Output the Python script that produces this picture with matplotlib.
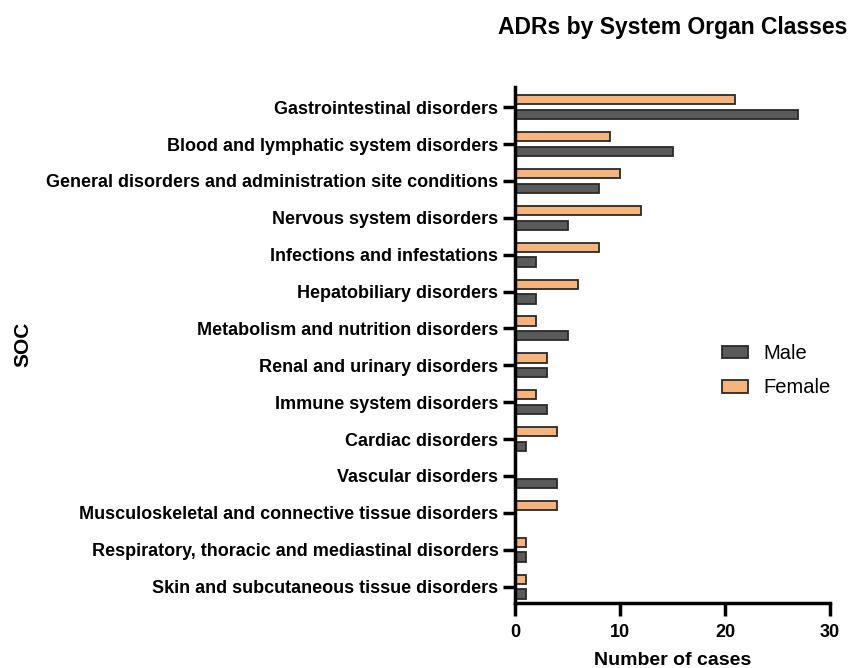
import numpy as np
import matplotlib.pyplot as plt

plt.rcParams['font.family'] = ['Liberation Sans', 'DejaVu Sans']

categories = [
    'Gastrointestinal disorders',
    'Blood and lymphatic system disorders',
    'General disorders and administration site conditions',
    'Nervous system disorders',
    'Infections and infestations',
    'Hepatobiliary disorders',
    'Metabolism and nutrition disorders',
    'Renal and urinary disorders',
    'Immune system disorders',
    'Cardiac disorders',
    'Vascular disorders',
    'Musculoskeletal and connective tissue disorders',
    'Respiratory, thoracic and mediastinal disorders',
    'Skin and subcutaneous tissue disorders',
]
male = [27, 15, 8, 5, 2, 2, 5, 3, 3, 1, 4, 0, 1, 1]
female = [21, 9, 10, 12, 8, 6, 2, 3, 2, 4, 0, 4, 1, 1]

male_color = '#5a5a5a'
female_color = '#f4b47c'

fig = plt.figure(figsize=(8.6, 6.68), dpi=100)
ax = fig.add_axes([0.599, 0.097, 0.366, 0.773])

y = np.arange(len(categories))
h = 0.25
ax.barh(y + 0.2, male, height=h, color=male_color, edgecolor='#2a2a2a', linewidth=1.3, label='Male')
ax.barh(y - 0.2, female, height=h, color=female_color, edgecolor='#2a2a2a', linewidth=1.3, label='Female')

ax.set_ylim(13.45, -0.55)
ax.set_xlim(0, 30)
ax.set_yticks(y)
ax.set_yticklabels(categories, fontsize=13, fontweight='bold')
ax.set_xticks([0, 10, 20, 30])
ax.set_xticklabels(['0', '10', '20', '30'], fontsize=13, fontweight='bold')

for s in ['top', 'right']:
    ax.spines[s].set_visible(False)
for s in ['left', 'bottom']:
    ax.spines[s].set_linewidth(2.5)
    ax.spines[s].set_color('black')
ax.tick_params(axis='both', width=2.5, length=9, direction='out')
ax.tick_params(axis='y', pad=3)
ax.tick_params(axis='x', pad=6)

ax.set_xlabel('Number of cases', fontsize=14, fontweight='bold', labelpad=8)
fig.text(0.027, 0.485, 'SOC', rotation=90, fontsize=15, fontweight='bold', va='center', ha='center')
ax.set_title('ADRs by System Organ Classes', fontsize=16.5, fontweight='bold', pad=38)

ax.legend(loc='center left', bbox_to_anchor=(722 / 860, 0.445), bbox_transform=fig.transFigure,
          frameon=False, fontsize=14.5, borderpad=0, borderaxespad=0,
          handlelength=1.3, handleheight=0.6, handletextpad=0.75, labelspacing=0.75)

fig.savefig('out.png', dpi=100)
